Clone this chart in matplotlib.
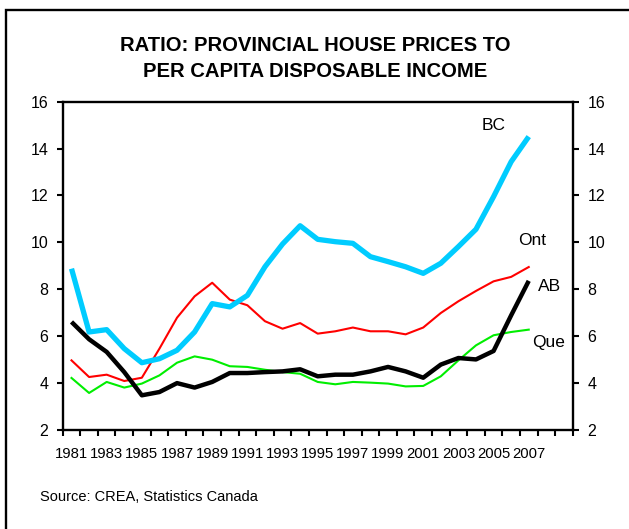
import numpy as np
import matplotlib
matplotlib.use("Agg")
import matplotlib.pyplot as plt
import matplotlib.patches as mpatches

plt.rcParams['font.family'] = ['Liberation Sans', 'DejaVu Sans']

years = list(range(1981, 2008))
bc = [8.88, 6.18, 6.28, 5.47, 4.87, 5.04, 5.40, 6.18, 7.39, 7.25, 7.74, 8.96, 9.93, 10.71,
      10.13, 10.03, 9.96, 9.39, 9.18, 8.96, 8.68, 9.11, 9.82, 10.56, 11.95, 13.44, 14.51]
ont = [4.97, 4.26, 4.36, 4.09, 4.23, 5.47, 6.79, 7.70, 8.28, 7.56, 7.32, 6.64, 6.32, 6.56,
       6.11, 6.21, 6.37, 6.21, 6.21, 6.08, 6.37, 6.99, 7.49, 7.93, 8.34, 8.53, 8.95]
que = [4.22, 3.58, 4.05, 3.81, 3.98, 4.33, 4.87, 5.14, 5.00, 4.72, 4.69, 4.57, 4.47, 4.40,
       4.05, 3.95, 4.05, 4.02, 3.98, 3.86, 3.88, 4.29, 4.97, 5.61, 6.04, 6.18, 6.28]
ab = [6.61, 5.87, 5.33, 4.47, 3.48, 3.62, 4.00, 3.81, 4.05, 4.43, 4.43, 4.47, 4.50, 4.59,
      4.29, 4.36, 4.36, 4.50, 4.69, 4.50, 4.23, 4.79, 5.07, 5.01, 5.37, 6.89, 8.36]
yticks = [2, 4, 6, 8, 10, 12, 14, 16]
xlabels = list(range(1981, 2008, 2))

fig = plt.figure(figsize=(6.29, 5.29), dpi=100)
ax = fig.add_axes([0.0997, 0.1871, 0.8108, 0.6207])

ax.plot(years, que, color='#00ee00', lw=1.5)
ax.plot(years, ont, color='#ff0000', lw=1.5)
ax.plot(years, bc, color='#00ccff', lw=3.8, solid_capstyle='butt')
ax.plot(years, ab, color='black', lw=3.2, solid_capstyle='butt')

ax.text(2005, 15.0, 'BC', fontsize=12.5, ha='center', va='center')
ax.text(2007.2, 10.1, 'Ont', fontsize=12.5, ha='center', va='center')
ax.text(2008.2, 8.1, 'AB', fontsize=12.5, ha='center', va='center')
ax.text(2008.1, 5.72, 'Que', fontsize=12.5, ha='center', va='center')

ax.set_xlim(1980.5, 2009.5)
ax.set_ylim(2, 16)
ax.set_xticks(xlabels)
ax.set_xticklabels([str(y) for y in xlabels], fontsize=10.7)
ax.set_xticks(np.arange(1980.5, 2010, 1.0), minor=True)
ax.tick_params(axis='x', which='major', length=0, pad=12)
ax.tick_params(axis='x', which='minor', length=4, width=1.5, direction='out')
ax.set_yticks(yticks)
ax.tick_params(axis='y', which='major', length=4.5, width=1.5, direction='out', pad=6,
               labelsize=11.5, left=True, right=True, labelleft=True, labelright=True)
for s in ax.spines.values():
    s.set_linewidth(1.7)

fig.text(0.501, 0.889, 'RATIO: PROVINCIAL HOUSE PRICES TO\nPER CAPITA DISPOSABLE INCOME',
         ha='center', va='center', fontsize=14.6, fontweight='bold', linespacing=1.5)
fig.text(0.064, 0.06, 'Source: CREA, Statistics Canada', fontsize=10.5, va='center')

frame = mpatches.Rectangle((6 / 629, -0.1), 1.2, 1 - 10 / 529 + 0.1, transform=fig.transFigure,
                           fill=False, edgecolor='black', lw=1.7)
fig.patches.append(frame)

plt.savefig('out.png', dpi=100)
